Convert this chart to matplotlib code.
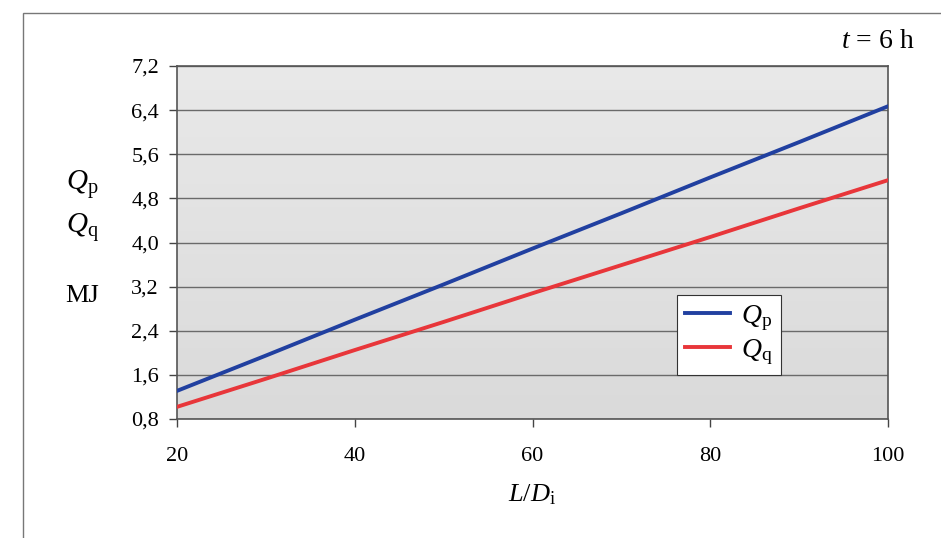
import numpy as np
import matplotlib as mpl
mpl.use('Agg')
import matplotlib.pyplot as plt
from matplotlib.patches import Rectangle

mpl.rcParams['font.family'] = ['Liberation Serif', 'DejaVu Serif']
mpl.rcParams['mathtext.fontset'] = 'custom'
mpl.rcParams['mathtext.rm'] = 'Liberation Serif'
mpl.rcParams['mathtext.it'] = 'Liberation Serif:italic'

# data
l_di = [20, 30, 40, 50, 60, 70, 80, 90, 100]
q_p = [1.31, 1.95, 2.60, 3.24, 3.89, 4.53, 5.18, 5.82, 6.47]
q_q = [1.02, 1.53, 2.05, 2.56, 3.08, 3.59, 4.10, 4.62, 5.13]
y_ticks = [0.8, 1.6, 2.4, 3.2, 4.0, 4.8, 5.6, 6.4, 7.2]
x_ticks = [20, 40, 60, 80, 100]

fig = plt.figure(figsize=(9.41, 5.38), dpi=100)
W, H = 941, 538
ax = fig.add_axes([177/W, 1-419/H, (888-177)/W, (419-66)/H])

# outer frame of the figure
fig.patches.append(Rectangle((23/W, -0.05), 1.0, 1-13/H+0.05, transform=fig.transFigure,
                             fill=False, edgecolor='#777777', lw=1.0))

# gray gradient background
grad = np.linspace(0, 1, 256).reshape(-1, 1)
ax.imshow(grad, extent=[0, 1, 0, 1], transform=ax.transAxes, aspect='auto',
          cmap=mpl.colors.LinearSegmentedColormap.from_list('g', ['#e9e9e9', '#dadada']),
          zorder=0)

for y in y_ticks:
    ax.axhline(y, color='#6a6a6a', lw=1.0, zorder=1)

ax.plot(l_di, q_p, color='#2140a0', lw=2.8, label=r'$Q_\mathrm{p}$', zorder=3)
ax.plot(l_di, q_q, color='#e8363a', lw=2.8, label=r'$Q_\mathrm{q}$', zorder=3)

ax.set_xlim(20, 100)
ax.set_ylim(0.8, 7.2)
ax.set_xticks(x_ticks)
ax.set_yticks(y_ticks)
ax.set_yticklabels([f'{v:.1f}'.replace('.', ',') for v in y_ticks])
ax.tick_params(axis='both', labelsize=16, length=6, width=1, color='#444444')
ax.tick_params(axis='x', pad=14)
ax.tick_params(axis='y', pad=7)
for s in ax.spines.values():
    s.set_color('#555555')
    s.set_linewidth(1.2)

fig.text(66/W, 1-185/H, r'$Q_\mathrm{p}$', fontsize=21, va='center', ha='left')
fig.text(66/W, 1-228/H, r'$Q_\mathrm{q}$', fontsize=21, va='center', ha='left')
fig.text(65/W, 1-296/H, 'MJ', fontsize=19, va='center', ha='left')
fig.text(532/W, 1-495/H, r'$L/D_\mathrm{i}$', fontsize=19, va='center', ha='center')
fig.text(914/W, 1-42/H, r'$t$ = 6 h', fontsize=20, va='center', ha='right')

leg = ax.legend(loc='upper left', bbox_to_anchor=((677-177)/(888-177), (419-295)/(419-66)),
                borderaxespad=0, fontsize=20, frameon=True, fancybox=False, framealpha=1,
                edgecolor='#333333', handlelength=1.6, handletextpad=0.4,
                borderpad=0.3, labelspacing=0.15)
leg.get_frame().set_linewidth(0.8)

fig.savefig('out.png', dpi=100)
